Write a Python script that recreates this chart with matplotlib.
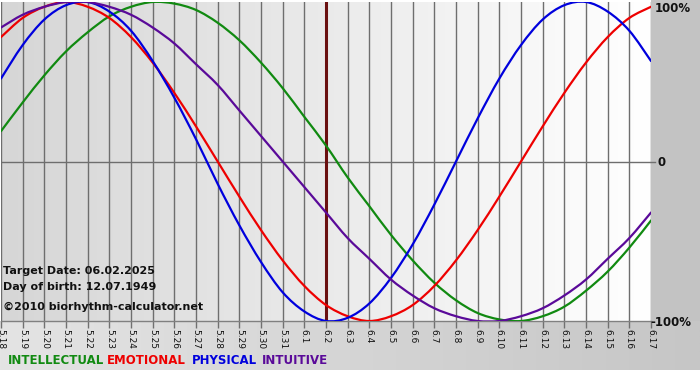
import matplotlib
matplotlib.use("Agg")
import matplotlib.pyplot as plt
import numpy as np
from matplotlib.colors import LinearSegmentedColormap
from matplotlib.path import Path
from matplotlib.patches import PathPatch

# ---- data ----
dates = ["5.18", "5.19", "5.20", "5.21", "5.22", "5.23", "5.24", "5.25", "5.26", "5.27",
         "5.28", "5.29", "5.30", "5.31", "6.1", "6.2", "6.3", "6.4", "6.5", "6.6",
         "6.7", "6.8", "6.9", "6.10", "6.11", "6.12", "6.13", "6.14", "6.15", "6.16", "6.17"]
intellectual = [0.19, 0.37, 0.54, 0.69, 0.81, 0.91, 0.97, 1.00, 0.99, 0.95, 0.87, 0.76, 0.62,
                0.46, 0.28, 0.10, -0.10, -0.28, -0.46, -0.62, -0.76, -0.87, -0.95, -0.99,
                -1.00, -0.97, -0.91, -0.81, -0.69, -0.54, -0.37]
emotional = [0.78, 0.90, 0.97, 1.00, 0.97, 0.90, 0.78, 0.62, 0.43, 0.22, 0.00, -0.22, -0.43,
             -0.62, -0.78, -0.90, -0.97, -1.00, -0.97, -0.90, -0.78, -0.62, -0.43, -0.22,
             0.00, 0.22, 0.43, 0.62, 0.78, 0.90, 0.97]
physical = [0.52, 0.73, 0.89, 0.98, 1.00, 0.94, 0.82, 0.63, 0.40, 0.14, -0.14, -0.40, -0.63,
            -0.82, -0.94, -1.00, -0.98, -0.89, -0.73, -0.52, -0.27, 0.00, 0.27, 0.52, 0.73,
            0.89, 0.98, 1.00, 0.94, 0.82, 0.63]
intuitive = [0.84, 0.92, 0.97, 1.00, 1.00, 0.97, 0.92, 0.84, 0.74, 0.61, 0.48, 0.32, 0.16,
             0.00, -0.16, -0.32, -0.48, -0.61, -0.74, -0.84, -0.92, -0.97, -1.00, -1.00,
             -0.97, -0.92, -0.84, -0.74, -0.61, -0.48, -0.32]
target_label = "6.2"
y_labels = ["100%", "0", "-100%"]
info_lines = ["Target Date: 06.02.2025", "Day of birth: 12.07.1949", "\u00a92010 biorhythm-calculator.net"]
series_names = ["INTELLECTUAL", "EMOTIONAL", "PHYSICAL", "INTUITIVE"]

colors = {"INTELLECTUAL": "#118a11", "EMOTIONAL": "#ee0000", "PHYSICAL": "#0000dd", "INTUITIVE": "#5a0a99"}

W, H = 700, 380
fig = plt.figure(figsize=(7, 3.8), dpi=100)
fig.patch.set_facecolor("white")

def fx(px):
    return px / W

def fy(py):
    return 1 - py / H

def smooth_path(xs, ys):
    """Catmull-Rom spline through the data points, drawn as cubic Bezier segments."""
    xs = np.asarray(xs, float)
    ys = np.asarray(ys, float)
    n = len(xs)
    verts = [(xs[0], ys[0])]
    codes = [Path.MOVETO]
    for i in range(n - 1):
        i0 = max(i - 1, 0)
        i3 = min(i + 2, n - 1)
        p0 = np.array([xs[i0], ys[i0]])
        p1 = np.array([xs[i], ys[i]])
        p2 = np.array([xs[i + 1], ys[i + 1]])
        p3 = np.array([xs[i3], ys[i3]])
        c1 = p1 + (p2 - p0) / 6.0
        c2 = p2 - (p3 - p1) / 6.0
        verts += [tuple(c1), tuple(c2), tuple(p2)]
        codes += [Path.CURVE4] * 3
    return Path(verts, codes)

# background: outer gray area
bg = fig.add_axes([0, 0, 1, 1], zorder=0)
bg.set_axis_off()
bg.set_xlim(0, W)
bg.set_ylim(H, 0)
grad = np.linspace(0, 1, 256).reshape(1, -1)
cm_bottom = LinearSegmentedColormap.from_list("b", ["#e4e4e4", "#c6c6c6"])
bg.imshow(grad, extent=[0, W, 370, 321], cmap=cm_bottom, aspect="auto", zorder=0)
bg.add_patch(plt.Rectangle((651, 0), W - 651, 321, color="#c3c3c3", zorder=1, lw=0))

# main plot
L, R, T, B = 1, 651, 2, 321
ax = fig.add_axes([fx(L), fy(B), fx(R - L), fy(T) - fy(B)], zorder=2)
ax.set_xlim(0, len(dates) - 1)
ax.set_ylim(-1.0, 1.0)
cm_plot = LinearSegmentedColormap.from_list("p", ["#d6d6d6", "#ffffff"])
ax.imshow(grad, extent=[0, len(dates) - 1, -1, 1], cmap=cm_plot, aspect="auto", zorder=0)
for s in ax.spines.values():
    s.set_visible(False)
ax.spines["bottom"].set_visible(True)
ax.spines["bottom"].set_color("#808080")
ax.spines["bottom"].set_linewidth(1)

x = np.arange(len(dates))
ax.set_xticks(x)
ax.set_xticklabels(dates, rotation=-90, fontsize=6.5, family="DejaVu Sans", color="#111111")
ax.tick_params(axis="x", length=5, width=1, color="#707070", pad=1)
ax.set_yticks([])
for xi in x:
    ax.axvline(xi, color="#6e6e6e", lw=1, zorder=1)
ax.axhline(0, color="#6e6e6e", lw=1, zorder=1)
ax.plot([len(dates) - 1, len(dates) - 0.8], [0, 0], color="#707070", lw=1, clip_on=False)

ti = dates.index(target_label)
ax.axvline(ti, color="#6a1010", lw=2.2, zorder=2)

for name, vals in zip(series_names, [intellectual, emotional, physical, intuitive]):
    ax.add_patch(PathPatch(smooth_path(x, vals), facecolor="none", edgecolor=colors[name],
                           lw=1.6, zorder=3, capstyle="round"))

# right labels
fig.text(fx(655), fy(8), y_labels[0], fontsize=8.5, fontweight="bold", va="center", ha="left", color="#111111")
fig.text(fx(658), fy(162), y_labels[1], fontsize=8.5, fontweight="bold", va="center", ha="left", color="#111111")
fig.text(fx(650), fy(322), y_labels[2], fontsize=8.5, fontweight="bold", va="center", ha="left", color="#111111")

# info text
for t, yy in zip(info_lines, [271, 287, 307]):
    fig.text(fx(3), fy(yy), t, fontsize=8, fontweight="bold", va="center", ha="left", color="#111111", zorder=5)

# legend
for name, xx in zip(series_names, [8, 107, 192, 262]):
    fig.text(fx(xx), fy(361), name, fontsize=8.5, fontweight="bold", va="center", ha="left", color=colors[name])

fig.savefig("out.png", dpi=100, facecolor=fig.get_facecolor())
